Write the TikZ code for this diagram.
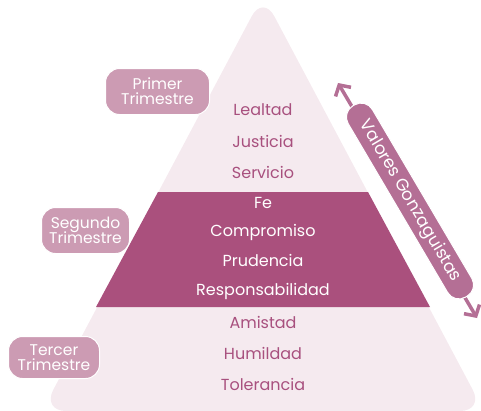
\documentclass[tikz,border=0pt]{standalone}
\usepackage{fontspec}
\setmainfont{Poppins}
\usetikzlibrary{arrows.meta}
\definecolor{pyr}{HTML}{F5EAEF}
\definecolor{band}{HTML}{AA507D}
\definecolor{lbl}{HTML}{CC9BB3}
\definecolor{txt}{HTML}{A8507E}
\definecolor{arr}{HTML}{B46F95}
\tikzset{
  val/.style={text=txt, font=\fontsize{16}{16}\selectfont, inner sep=0pt},
  valw/.style={text=white, font=\fontsize{16}{16}\selectfont, inner sep=0pt},
  term/.style={fill=lbl, draw=white, line width=1pt, rounded corners=14pt, text=white,
    font=\fontsize{15.5}{16}\selectfont, align=center, inner sep=0pt},
}
\begin{document}
\begin{tikzpicture}[x=1pt,y=-1pt]
\useasboundingbox (0,0) rectangle (481,410);
% pyramid
\fill[pyr, rounded corners=24pt] (263,-5) -- (484,411) -- (42,411) -- cycle;
\fill[band] (158,192) -- (368,192) -- (430,307) -- (96,307) -- cycle;
% values
\node[val] (lealtad) at (263,110) {Lealtad};
\node[val] (justicia) at (263,141) {Justicia};
\node[val] (servicio) at (263,172) {Servicio};
\node[valw] (fe) at (263,203) {Fe};
\node[valw] (compromiso) at (263,232) {Compromiso};
\node[valw] (prudencia) at (263,260) {Prudencia};
\node[valw] (resp) at (263,291) {Responsabilidad};
\node[val] (amistad) at (263,322) {Amistad};
\node[val] (humildad) at (263,353) {Humildad};
\node[val] (tolerancia) at (263,384) {Tolerancia};
% terms
\node[term, minimum width=104pt, minimum height=46pt] (t1) at (157.5,91.5) {Primer\\[-1pt]Trimestre};
\node[term, minimum width=88pt, minimum height=46pt] (t2) at (85.5,230.5) {Segundo\\[-1pt]Trimestre};
\node[term, minimum width=91pt, minimum height=42pt] (t3) at (54,357.5) {Tercer\\[-1pt]Trimestre};
% arrow
\coordinate (a1) at (338,83);
\coordinate (a2) at (477,318);
\draw[arr, line width=3.5pt, {Straight Barb[length=8pt,width=18pt]}-{Straight Barb[length=8pt,width=18pt]}] (a1) -- (a2);
\node[fill=arr, draw=white, line width=1pt, rounded corners=13pt, rotate=-59.5,
  minimum width=222pt, minimum height=28pt, inner sep=0pt, text=white,
  font=\fontsize{17}{17}\selectfont] (vg) at (410,201) {Valores Gonzaguistas};
\end{tikzpicture}
\end{document}
